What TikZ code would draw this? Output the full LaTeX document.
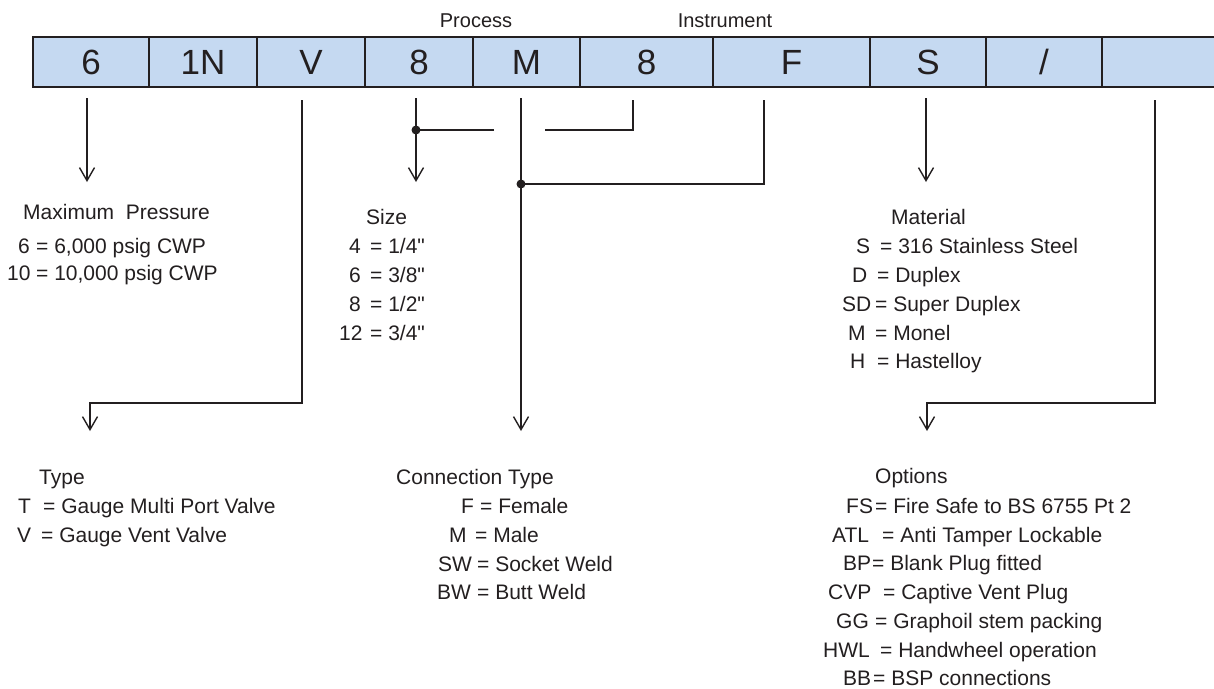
\documentclass[tikz,border=0pt]{standalone}
\usepackage{fontspec}
\setmainfont{Liberation Sans}
\newfontfamily\plainq{Liberation Sans}
\usetikzlibrary{arrows.meta}
\definecolor{cellfill}{HTML}{C5D9F1}
\definecolor{ink}{HTML}{231F20}
\newcommand{\kv}[3]{\makebox[#1pt][l]{#2}#3}
\newcommand{\inch}{{\plainq\symbol{34}}}
\begin{document}
\begin{tikzpicture}[x=1pt,y=-1pt,
  cell/.style={draw=ink, line width=2.3pt, fill=cellfill, minimum height=50pt, inner sep=0pt, text height=25pt, text depth=0pt, font=\fontsize{35}{40}\selectfont, text=ink},
  lbl/.style={anchor=base west, inner sep=0pt, font=\fontsize{21}{25}\selectfont, text=ink},
  hdr/.style={anchor=base, inner sep=0pt, font=\fontsize{20}{24}\selectfont, text=ink},
  conn/.style={draw=ink, line width=1.4pt},
  arr/.style={conn, -{Straight Barb[length=13pt,width=15pt]}},
  dot/.style={circle, fill=ink, inner sep=0pt, minimum size=9pt}]
\useasboundingbox[fill=white] (0,0) rectangle (1214,688);

% header labels
\node[hdr] (hproc) at (476,27.5) {Process};
\node[hdr] (hinst) at (725,27.5) {Instrument};

% code cells
\node[cell, minimum width=116pt] (c1) at (91,62) {6};
\node[cell, minimum width=108pt] (c2) at (203,62) {1N};
\node[cell, minimum width=108pt] (c3) at (311,62) {V};
\node[cell, minimum width=108pt] (c4) at (419,62) {8};
\node[cell, minimum width=107pt] (c5) at (526.5,62) {M};
\node[cell, minimum width=133pt] (c6) at (646.5,62) {8};
\node[cell, minimum width=157pt] (c7) at (791.5,62) {F};
\node[cell, minimum width=116pt] (c8) at (928,62) {S};
\node[cell, minimum width=116pt] (c9) at (1044,62) {/};
\node[cell, minimum width=138pt] (c10) at (1171,62) {};

% connector points
\coordinate (p6a) at (87,98);   \coordinate (p6b) at (87,182);
\coordinate (va) at (302,100);  \coordinate (vb) at (302,403);
\coordinate (vc) at (90,403);   \coordinate (vd) at (90,431);
\coordinate (sa) at (416,98);   \coordinate (sb) at (416,182);
\coordinate (ia) at (633,100);  \coordinate (ib) at (545,130);
\coordinate (ic) at (494,130);
\coordinate (ma) at (521,98);   \coordinate (mb) at (521,431);
\coordinate (fa) at (764,100);
\coordinate (ta) at (926,98);   \coordinate (tb) at (926,182);
\coordinate (oa) at (1155,100); \coordinate (ob) at (1155,403);
\coordinate (oc) at (927,403);  \coordinate (od) at (927,431);

\node[dot] (d1) at (416,130) {};
\node[dot] (d2) at (521,184) {};

\draw[arr] (p6a) -- (p6b);
\draw[arr] (va) -- (vb) -- (vc) -- (vd);
\draw[arr] (sa) -- (sb);
\draw[conn] (ia) |- (ib);
\draw[conn] (ic) -- (d1.center);
\draw[arr] (ma) -- (mb);
\draw[conn] (fa) |- (d2.center);
\draw[arr] (ta) -- (tb);
\draw[arr] (oa) -- (ob) -- (oc) -- (od);

% Maximum pressure
\node[lbl] (mp0) at (23,219.5) {Maximum\ \ Pressure};
\node[lbl] (mp1) at (18,253) {\kv{18}{6}{= 6,000 psig CWP}};
\node[lbl] (mp2) at (7,280) {\kv{29}{10}{= 10,000 psig CWP}};

% Size
\node[lbl] (sz0) at (366,224) {Size};
\node[lbl] (sz1) at (349,253) {\kv{21}{4}{= 1/4\inch}};
\node[lbl] (sz2) at (349,282) {\kv{21}{6}{= 3/8\inch}};
\node[lbl] (sz3) at (349,311) {\kv{21}{8}{= 1/2\inch}};
\node[lbl] (sz4) at (339,340) {\kv{31}{12}{= 3/4\inch}};

% Material
\node[lbl] (mt0) at (891,224) {Material};
\node[lbl] (mt1) at (856,253) {\kv{24}{S}{= 316 Stainless Steel}};
\node[lbl] (mt2) at (852,282) {\kv{25}{D}{= Duplex}};
\node[lbl] (mt3) at (842,311) {\kv{33}{SD}{= Super Duplex}};
\node[lbl] (mt4) at (848,340) {\kv{27}{M}{= Monel}};
\node[lbl] (mt5) at (850,368) {\kv{27}{H}{= Hastelloy}};

% Type
\node[lbl] (ty0) at (39,484) {Type};
\node[lbl] (ty1) at (18,513) {\kv{25}{T}{= Gauge Multi Port Valve}};
\node[lbl] (ty2) at (17,542) {\kv{24}{V}{= Gauge Vent Valve}};

% Connection type
\node[lbl] (ct0) at (396,484) {Connection Type};
\node[lbl] (ct1) at (461,513) {\kv{19}{F}{= Female}};
\node[lbl] (ct2) at (449,542) {\kv{26}{M}{= Male}};
\node[lbl] (ct3) at (438,571) {\kv{39}{SW}{= Socket Weld}};
\node[lbl] (ct4) at (437,599) {\kv{40}{BW}{= Butt Weld}};

% Options
\node[lbl] (op0) at (875,483) {Options};
\node[lbl] (op1) at (846,513) {\kv{29}{FS}{= Fire Safe to BS 6755 Pt 2}};
\node[lbl] (op2) at (832,542) {\kv{50}{ATL}{= Anti Tamper Lockable}};
\node[lbl] (op3) at (843,570) {\kv{29}{BP}{= Blank Plug fitted}};
\node[lbl] (op4) at (828,599) {\kv{55}{CVP}{= Captive Vent Plug}};
\node[lbl] (op5) at (836,628) {\kv{39}{GG}{= Graphoil stem packing}};
\node[lbl] (op6) at (823,657) {\kv{57}{HWL}{= Handwheel operation}};
\node[lbl] (op7) at (843,685) {\kv{30}{BB}{= BSP connections}};
\end{tikzpicture}
\end{document}
